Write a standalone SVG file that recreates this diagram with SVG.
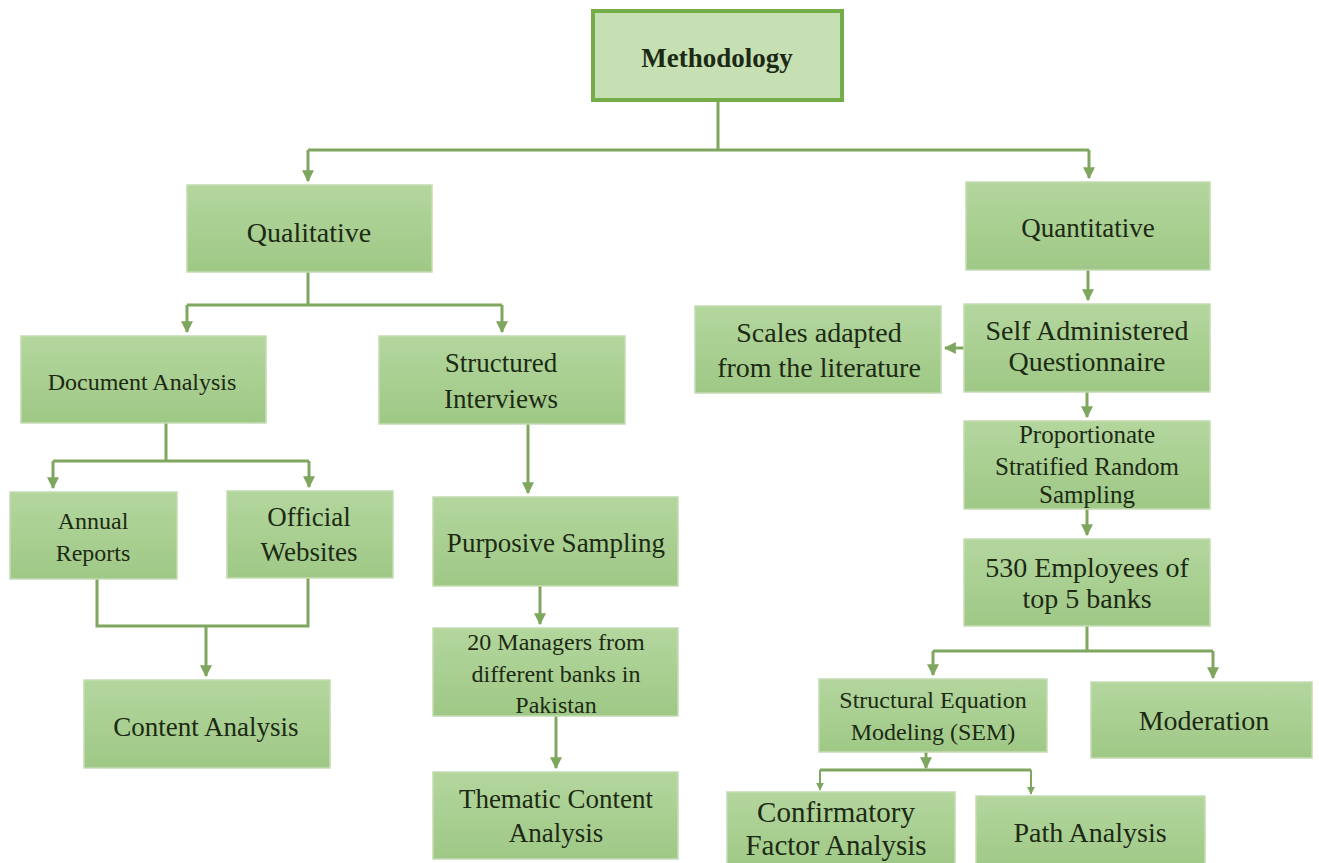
<svg xmlns="http://www.w3.org/2000/svg" width="1319" height="863" viewBox="0 0 1319 863">
<defs>
<linearGradient id="g" x1="0" y1="0" x2="0" y2="1">
<stop offset="0" stop-color="#b3d69d"/>
<stop offset="1" stop-color="#9fc886"/>
</linearGradient>
<marker id="ah" viewBox="0 0 10 10" refX="9" refY="5" markerWidth="4" markerHeight="4" orient="auto" markerUnits="strokeWidth">
<path d="M0,0 L10,5 L0,10 z" fill="#7fa65e"/>
</marker>
<style>
.box{fill:url(#g);stroke:#c4dcb2;stroke-width:1.5}
.top{fill:#c6e0b4;stroke:#74ad48;stroke-width:4}
.t{font-family:"Liberation Serif","Times New Roman",serif;fill:#1c2a14;text-anchor:middle}
.c{fill:none;stroke:#7fa65e;stroke-width:3}
.c2{fill:none;stroke:#7fa65e;stroke-width:2}
</style>
</defs>
<rect width="1319" height="863" fill="#ffffff"/>
<g id="connectors">
<path class="c" d="M718,100 V150 M308,150 H1089"/>
<path class="c" d="M308,150 V181" marker-end="url(#ah)"/>
<path class="c" d="M1089,150 V178" marker-end="url(#ah)"/>
<path class="c" d="M308,272 V305 M187,305 H502"/>
<path class="c" d="M187,305 V332" marker-end="url(#ah)"/>
<path class="c" d="M502,305 V332" marker-end="url(#ah)"/>
<path class="c" d="M166,423 V461 M53,461 H309"/>
<path class="c" d="M53,461 V488" marker-end="url(#ah)"/>
<path class="c" d="M309,461 V487" marker-end="url(#ah)"/>
<path class="c" d="M97,579 V626 H308 V578"/>
<path class="c" d="M206,626 V676" marker-end="url(#ah)"/>
<path class="c" d="M528,424 V493" marker-end="url(#ah)"/>
<path class="c" d="M540,586 V624" marker-end="url(#ah)"/>
<path class="c" d="M556,716 V768" marker-end="url(#ah)"/>
<path class="c" d="M1088,270 V300" marker-end="url(#ah)"/>
<path class="c" d="M964,348 H945" marker-end="url(#ah)"/>
<path class="c" d="M1087,392 V417" marker-end="url(#ah)"/>
<path class="c" d="M1087,509 V535" marker-end="url(#ah)"/>
<path class="c" d="M1087,626 V651 M933,651 H1213"/>
<path class="c" d="M933,651 V675" marker-end="url(#ah)"/>
<path class="c" d="M1213,651 V678" marker-end="url(#ah)"/>
<path class="c" d="M926,752 V768" marker-end="url(#ah)"/>
<path class="c" d="M820,770 H1031"/>
<path class="c2" d="M820,770 V790" marker-end="url(#ah)"/>
<path class="c2" d="M1031,770 V794" marker-end="url(#ah)"/>
</g>
<g id="methodology"><rect class="top" x="593" y="11" width="249" height="89"/><text class="t" x="717" y="67" font-size="27" font-weight="bold">Methodology</text></g>
<g id="qualitative"><rect class="box" x="187" y="185" width="245" height="87"/><text class="t" x="309" y="242" font-size="28">Qualitative</text></g>
<g id="quantitative"><rect class="box" x="966" y="182" width="244" height="88"/><text class="t" x="1088" y="237" font-size="27">Quantitative</text></g>
<g id="document-analysis"><rect class="box" x="21" y="336" width="245" height="87"/><text class="t" x="142" y="390" font-size="24">Document Analysis</text></g>
<g id="structured-interviews"><rect class="box" x="379" y="336" width="246" height="88"/><text class="t" x="501" y="372" font-size="27">Structured</text><text class="t" x="501" y="408" font-size="27">Interviews</text></g>
<g id="annual-reports"><rect class="box" x="10" y="492" width="167" height="87"/><text class="t" x="93" y="529" font-size="24">Annual</text><text class="t" x="93" y="561" font-size="24">Reports</text></g>
<g id="official-websites"><rect class="box" x="227" y="491" width="166" height="87"/><text class="t" x="309" y="526" font-size="27">Official</text><text class="t" x="309" y="561" font-size="27">Websites</text></g>
<g id="content-analysis"><rect class="box" x="84" y="680" width="246" height="88"/><text class="t" x="206" y="736" font-size="27">Content Analysis</text></g>
<g id="purposive-sampling"><rect class="box" x="433" y="497" width="245" height="89"/><text class="t" x="556" y="552" font-size="27">Purposive Sampling</text></g>
<g id="managers"><rect class="box" x="433" y="628" width="245" height="88"/><text class="t" x="556" y="650" font-size="24">20 Managers from</text><text class="t" x="556" y="682" font-size="24">different banks in</text><text class="t" x="556" y="713" font-size="24">Pakistan</text></g>
<g id="thematic"><rect class="box" x="433" y="772" width="245" height="87"/><text class="t" x="556" y="808" font-size="27">Thematic Content</text><text class="t" x="556" y="842" font-size="27">Analysis</text></g>
<g id="self-administered"><rect class="box" x="964" y="304" width="246" height="88"/><text class="t" x="1087" y="340" font-size="28">Self Administered</text><text class="t" x="1087" y="371" font-size="28">Questionnaire</text></g>
<g id="scales"><rect class="box" x="695" y="306" width="246" height="87"/><text class="t" x="819" y="342" font-size="28">Scales adapted</text><text class="t" x="819" y="377" font-size="28">from the literature</text></g>
<g id="proportionate"><rect class="box" x="964" y="421" width="246" height="88"/><text class="t" x="1087" y="443" font-size="25">Proportionate</text><text class="t" x="1087" y="475" font-size="25">Stratified Random</text><text class="t" x="1087" y="503" font-size="25">Sampling</text></g>
<g id="employees"><rect class="box" x="964" y="539" width="246" height="87"/><text class="t" x="1087" y="577" font-size="28">530 Employees of</text><text class="t" x="1087" y="608" font-size="28">top 5 banks</text></g>
<g id="sem"><rect class="box" x="819" y="679" width="228" height="73"/><text class="t" x="933" y="708" font-size="24">Structural Equation</text><text class="t" x="933" y="740" font-size="24">Modeling (SEM)</text></g>
<g id="moderation"><rect class="box" x="1091" y="682" width="221" height="76"/><text class="t" x="1204" y="730" font-size="28">Moderation</text></g>
<g id="cfa"><rect class="box" x="727" y="792" width="228" height="78"/><text class="t" x="836" y="822" font-size="29">Confirmatory</text><text class="t" x="836" y="855" font-size="29">Factor Analysis</text></g>
<g id="path-analysis"><rect class="box" x="976" y="796" width="229" height="74"/><text class="t" x="1090" y="842" font-size="28">Path Analysis</text></g>
</svg>
